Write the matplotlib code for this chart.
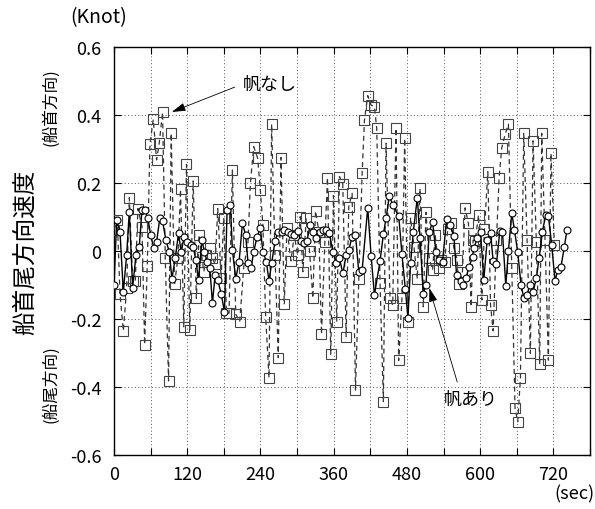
import matplotlib
matplotlib.use("Agg")
import matplotlib.pyplot as plt

plt.rcParams['font.family'] = ['Noto Sans CJK JP', 'DejaVu Sans']
plt.rcParams['axes.unicode_minus'] = False

# 帆あり (with sail) - circles, solid line
t_with = [0, 4.4, 9.8, 15.3, 20.7, 25.1, 30.5, 36, 41.4, 45.8, 50.2, 55.6, 60, 65.4, 69.8,
          75.2, 79.6, 85, 90.5, 94.9, 100.3, 105.7, 110.1, 114.5, 120, 125.4, 129.7, 134.1,
          138.5, 143.9, 148.2, 152.6, 157, 161.3, 165.7, 170, 175.5, 181, 185.3, 190.7,
          194, 199.5, 205, 210.4, 215.8, 219.6, 224.5, 229, 234.4, 239.8, 244, 249.6, 254,
          258.3, 263.8, 269.2, 274.6, 279, 284.5, 289.9, 295.4, 300.8, 306.3, 310.6, 316,
          321.5, 325.9, 331.3, 336.8, 342.2, 347.7, 353, 358.6, 364, 369.5, 375, 380.4,
          384.7, 390.2, 395.7, 401.1, 406.6, 415.8, 421.3, 426.7, 436, 441.4, 445.8, 451.2,
          456.7, 466.5, 471.9, 477.4, 481.7, 486, 490.5, 497, 501.4, 506.8, 511.2, 516.6,
          522, 527.5, 533, 538.4, 545, 550.4, 557, 561.3, 567.8, 572.2, 576.6, 582, 587.5,
          589.7, 595.1, 600.6, 606, 611.5, 617, 621.3, 626.7, 632.2, 636.5, 642, 646.3,
          651.8, 656.2, 661.6, 667, 671.4, 676.9, 681.2, 686.7, 692.1, 696.5, 702, 707.4,
          711.8, 717.2, 722.7, 727, 732.5, 738, 742.3]
v_with = [-0.10, 0.09, 0.057, -0.12, -0.012, 0.116, -0.108, -0.012, 0.013, 0.12, 0.12,
          0.096, 0.047, 0.008, 0.027, 0.098, 0.088, 0.032, -0.002, -0.082, -0.022, 0.052,
          -0.004, 0.04, 0.027, 0.018, 0.013, -0.026, -0.085, 0.032, -0.002, -0.031, -0.049,
          -0.154, -0.07, -0.085, -0.125, -0.178, 0.12, 0.135,
          0.003, -0.082, -0.031, 0.081, 0.047, -0.036, -0.051, -0.002, 0.042, 0.067, -0.002,
          -0.031, -0.088, -0.036, 0.029, 0.057, 0.055, 0.062, 0.057, 0.049, 0.047, 0.059,
          0.029, 0.023, 0.029, 0.076, 0.057, 0.037, 0.057, 0.062, 0.062, 0.052, -0.002,
          -0.036, -0.022, -0.066, -0.012, 0.003, 0.042,
          0.047, -0.061, -0.056, 0.127, -0.014, -0.129, -0.029, 0.049, 0.096, 0.163, 0.135,
          0.104, -0.01, -0.112, -0.198, -0.036, 0.057, 0.157, 0.039, -0.125, -0.10, 0.055,
          0.086, -0.002, -0.026, -0.031, 0.094, 0.076, 0.045, -0.071, -0.088, -0.10, -0.08,
          -0.046, -0.017,
          0.008, 0.037, 0.057, -0.085, 0.032, 0.052, -0.029, -0.039, 0.059, 0.057, -0.102,
          0.0, 0.111, 0.062, -0.004, -0.10, -0.137, -0.129, -0.10, -0.12, -0.08, -0.022,
          0.057, 0.106, 0.104, 0.018, -0.088, -0.056, -0.046, 0.013, 0.062]

# 帆なし (without sail) - squares, dashed line
t_without = [0, 5.4, 9.8, 15.3, 20.7, 25.1, 30.5, 34.9, 39.2, 45.8, 50.2, 54.5, 58.9, 64.3,
             69.8, 74.1, 79.6, 84, 89.4, 93.7, 99.2, 104.6, 109, 114.4, 118.8, 124.2, 129.7,
             135, 139.5, 143.9, 147.2, 151.5, 157, 161.3, 165.7, 170, 175.5, 179.8, 184.2,
             188.5, 194,
             199.5, 206, 212.5, 219.6, 223.5, 229, 235.4, 239.8, 244, 248.5, 254, 258.3,
             263.8, 269.2, 273.6, 279, 283.4, 289.9, 295.4, 300.8, 305.2, 309.5, 315, 320.4,
             325.9, 330.2, 335.7, 340, 345.5, 349.8, 355.2, 359.6, 365, 369.5, 374.9, 380.4,
             384.7,
             390.2, 395.7, 401.1, 406.6, 410.4, 415.8, 421.3, 426.7, 430.5, 436, 441.4, 445.8,
             452.3, 456.7, 462.1, 466.5, 471.9, 476.3, 481.7, 486, 491.5, 497, 501.4, 506.8,
             511.2, 516.6, 522, 526.4, 531.8, 536.2, 541.6, 547, 552.5, 556.8, 562.3, 565.5,
             571, 575.3, 580.8, 585.2, 588.4,
             591.9, 597.3, 602.8, 607.1, 612.6, 617, 621.3, 626.7, 631.1, 635.4, 640.9, 646.3,
             651.8, 657.2, 661.6, 666, 671.4, 676.9, 682.3, 686.7, 692.1, 697.6, 700.9, 706.3,
             711.8, 716.1, 721.6]
v_without = [0.062, 0.091, -0.125, -0.235, -0.11, 0.157, -0.088, -0.088, 0.125, 0.072,
             -0.275, -0.043, 0.314, 0.387, 0.268, 0.317, 0.408, -0.02, -0.382, 0.346, -0.098,
             -0.022, 0.181, -0.223, 0.255, -0.232, 0.206, -0.139, 0.047, -0.017, -0.061,
             -0.012, 0.008, -0.022, -0.039, 0.125, -0.08, 0.098, -0.183, -0.183, 0.238,
             -0.186, -0.208, -0.049, 0.027, 0.199, 0.307, 0.273, 0.179, 0.076, -0.193, -0.373,
             0.373, -0.012, -0.314, 0.275, -0.157, 0.067, -0.029, 0.047, -0.012, 0.101,
             -0.061, 0.096, 0.0, -0.139, 0.118, 0.057, -0.245, 0.027, 0.216, -0.304, 0.163,
             -0.208, 0.219, 0.196, -0.252, 0.13,
             0.17, -0.409, -0.082, 0.228, 0.385, 0.457, 0.429, 0.425, 0.361, -0.095, -0.443,
             0.317, -0.137, -0.159, 0.361, -0.322, -0.137, 0.331, -0.208, 0.098, 0.013,
             -0.082, 0.184, -0.164, 0.114, -0.022, -0.056, 0.047, -0.049, -0.026, -0.031,
             0.065, 0.081, 0.01, -0.026, -0.098, -0.061, 0.127, 0.081, -0.164, 0.032,
             0.029, 0.106, -0.144, 0.065, 0.233, -0.159, -0.235, 0.032, 0.216, 0.304, 0.343,
             0.373, -0.049, -0.463, -0.502, -0.373, 0.346, 0.032, -0.301, 0.324, 0.027,
             -0.333, 0.346, 0.032, -0.321, 0.287, 0.018]

x_ticks = [0, 120, 240, 360, 480, 600, 720]
x_tick_labels = ['0', '120', '240', '360', '480', '600', '720']
y_ticks = [-0.6, -0.4, -0.2, 0, 0.2, 0.4, 0.6]
y_tick_labels = ['-0.6', '-0.4', '-0.2', '0', '0.2', '0.4', '0.6']

W, H = 595, 510
fig = plt.figure(figsize=(W / 100, H / 100), dpi=100)
ax = fig.add_axes([114 / W, 1 - 456 / H, (590 - 114) / W, (456 - 48) / H])

ax.plot(t_without, v_without, color='#333333', lw=0.9, linestyle=(0, (4, 3)),
        marker='s', markersize=7.5, markerfacecolor='none', markeredgecolor='#444444',
        markeredgewidth=0.8, zorder=3)
ax.plot(t_with, v_with, color='black', lw=1.0, linestyle='-',
        marker='o', markersize=5, markerfacecolor='white', markeredgecolor='black',
        markeredgewidth=0.8, zorder=4)

ax.set_xlim(0, 780)
ax.set_ylim(-0.6, 0.6)
minor_x = list(range(0, 781, 60))
ax.set_xticks(minor_x)
ax.set_xticklabels([x_tick_labels[x_ticks.index(v)] if v in x_ticks else '' for v in minor_x])
ax.set_yticks(y_ticks)
ax.set_yticklabels(y_tick_labels)
ax.tick_params(direction='in', length=5, width=0.8, top=True, right=True,
               labelsize=13)
ax.tick_params(axis='x', pad=7)
ax.tick_params(axis='y', pad=9)
ax.grid(True, color='#555555', lw=0.7, linestyle=(0, (1, 2.5)))
for s in ax.spines.values():
    s.set_linewidth(1.0)

# annotations
arrow = dict(arrowstyle='-|>,head_length=0.6,head_width=0.18', color='black',
             lw=0.6, mutation_scale=14, shrinkA=0, shrinkB=0)
ax.annotate('', xy=(94.8, 0.409), xytext=(197.8, 0.482), arrowprops=arrow, zorder=6)
ax.text(211, 0.491, '帆なし', fontsize=13, ha='left', va='center', zorder=6)
ax.annotate('', xy=(516.7, -0.109), xytext=(562.4, -0.385), arrowprops=arrow, zorder=6)
ax.text(541, -0.435, '帆あり', fontsize=13, ha='left', va='center', zorder=6)

fig.text(70 / W, 1 - 18 / H, '(Knot)', fontsize=14, ha='left', va='center')
fig.text(595 / W, 1 - 494 / H, '(sec)', fontsize=13, ha='right', va='center')
fig.text(25 / W, 1 - 252 / H, '船首尾方向速度', fontsize=17, rotation=90,
         ha='center', va='center')
fig.text(51 / W, 1 - 107 / H, '(船首方向)', fontsize=12, rotation=90,
         ha='center', va='center')
fig.text(51 / W, 1 - 384 / H, '(船尾方向)', fontsize=12, rotation=90,
         ha='center', va='center')

fig.savefig('out.png', dpi=100)
